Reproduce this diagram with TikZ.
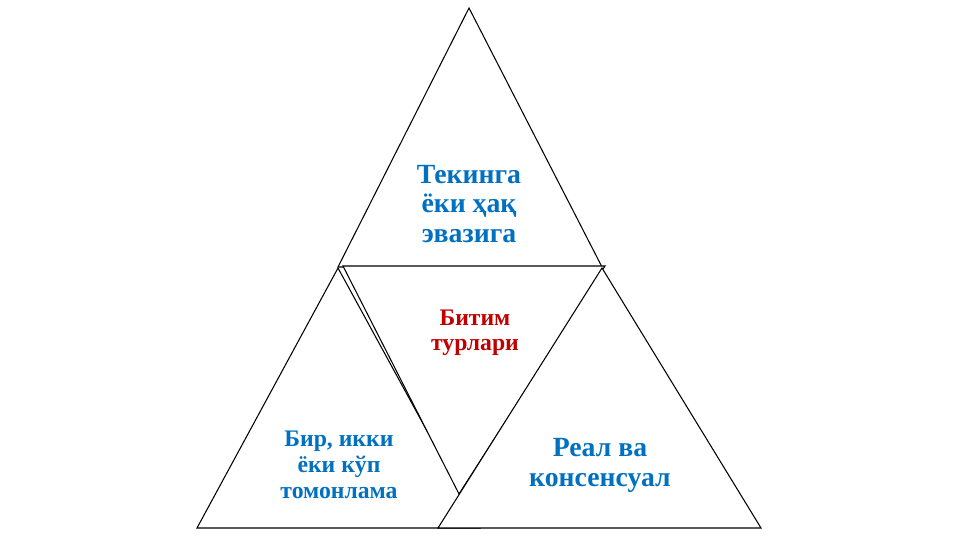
\documentclass[tikz,border=0pt]{standalone}
\usepackage{fontspec}
\setmainfont{Liberation Serif}
\usetikzlibrary{positioning}
\definecolor{blueish}{HTML}{0070C0}
\definecolor{darkred}{HTML}{C00000}

\begin{document}
\begin{tikzpicture}[
  x=0.02cm, y=-0.02cm,
  tri/.style={draw, fill=white, line width=0.6pt, line join=miter},
  bigtxt/.style={align=center, text=blueish,
    font=\fontsize{15.8}{17}\selectfont\bfseries},
  smalltxt/.style={align=center, text=blueish,
    font=\fontsize{13.5}{14.8}\selectfont\bfseries},
  redtxt/.style={align=center, text=darkred,
    font=\fontsize{13.5}{14.2}\selectfont\bfseries}
]
\useasboundingbox (0,0) rectangle (961,540);

% Corners
\coordinate (topA) at (469,8);
\coordinate (topL) at (338,267);
\coordinate (topR) at (602,267);
\coordinate (leftA) at (338,268);
\coordinate (leftL) at (197,528);
\coordinate (leftR) at (480,528);
\coordinate (midL) at (343,266);
\coordinate (midR) at (605,266);
\coordinate (midB) at (459,494);
\coordinate (rightA) at (602,268);
\coordinate (rightL) at (438,528);
\coordinate (rightR) at (761,528);

% Triangles
\draw[tri] (topA) -- (topL) -- (topR) -- cycle;
\draw[tri] (leftA) -- (leftL) -- (leftR) -- cycle;
\draw[tri] (midL) -- (midR) -- (midB) -- cycle;
\draw[tri] (rightA) -- (rightL) -- (rightR) -- cycle;

% Labels
\node[bigtxt] (payment) at (469,204) {Текинга\\ёки ҳақ\\эвазига};
\node[redtxt] (types) at (475,333) {Битим\\турлари};
\node[smalltxt] (parties) at (339,465) {Бир, икки\\ёки кўп\\томонлама};
\node[bigtxt] (real) at (600,465) {Реал ва\\консенсуал};

\end{tikzpicture}
\end{document}
